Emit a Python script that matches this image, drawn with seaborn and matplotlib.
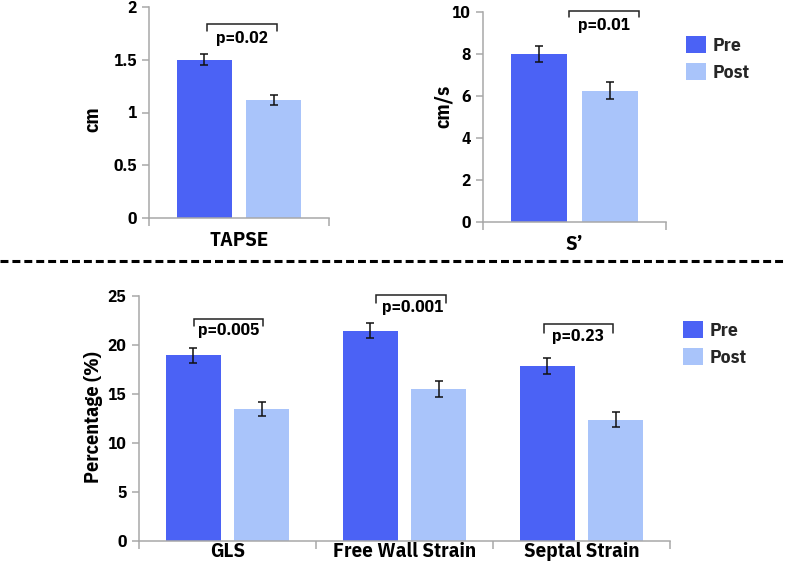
import matplotlib
matplotlib.use("Agg")
import matplotlib.pyplot as plt
from matplotlib.lines import Line2D
import numpy as np
import pandas as pd
import seaborn as sns

# ---------------- data ----------------
phases = ["Pre", "Post"]

tapse_cat = ["TAPSE"]
tapse_pre = [1.50]
tapse_post = [1.12]
tapse_pre_err = [0.05]
tapse_post_err = [0.05]
tapse_p = ["p=0.02"]

s_cat = ["S\u2019"]
s_pre = [8.0]
s_post = [6.25]
s_pre_err = [0.36]
s_post_err = [0.40]
s_p = ["p=0.01"]

strain_cat = ["GLS", "Free Wall Strain", "Septal Strain"]
strain_pre = [18.95, 21.45, 17.85]
strain_post = [13.45, 15.5, 12.35]
strain_pre_err = [0.75, 0.77, 0.77]
strain_post_err = [0.75, 0.78, 0.78]
strain_p = ["p=0.005", "p=0.001", "p=0.23"]

tapse_ticks = [0, 0.5, 1, 1.5, 2]
tapse_ticklabels = ["0", "0.5", "1", "1.5", "2"]
s_ticks = [0, 2, 4, 6, 8, 10]
strain_ticks = [0, 5, 10, 15, 20, 25]

# ---------------- style ----------------
sns.set_theme(style="white")
FAMILY = ["IBM Plex Sans Condensed", "Fira Sans Condensed", "Liberation Sans", "DejaVu Sans"]
plt.rcParams["font.family"] = FAMILY
plt.rcParams["font.weight"] = "bold"
plt.rcParams["axes.labelweight"] = "bold"

PRE_C = "#4B62F5"
POST_C = "#A9C4FA"
SPINE_C = "#A8A8A8"

W, H = 787, 566
fig = plt.figure(figsize=(W / 100, H / 100), dpi=100)


def fig_rect(x0, y_top, x1, y_bot):
    return [x0 / W, 1 - y_bot / H, (x1 - x0) / W, (y_bot - y_top) / H]


def make_df(cats, pre, post):
    rows = []
    for c, a, b in zip(cats, pre, post):
        rows.append({"category": c, "phase": "Pre", "value": a})
        rows.append({"category": c, "phase": "Post", "value": b})
    return pd.DataFrame(rows)


def draw_panel(ax, cats, pre, post, pre_err, post_err, ymax, ticks, ticklabels,
               ylabel, ylabel_xy, xpad, legend):
    df = make_df(cats, pre, post)
    sns.barplot(data=df, x="category", y="value", hue="phase", hue_order=phases,
                palette=[PRE_C, POST_C], width=0.77, gap=0.2, errorbar=None,
                linewidth=0, saturation=1, ax=ax, legend=legend)
    # error bars placed on seaborn's bars
    for cont, errs, vals in zip(ax.containers, [pre_err, post_err], [pre, post]):
        xs = [p.get_x() + p.get_width() / 2 for p in cont.patches]
        ax.errorbar(xs, vals, yerr=errs, fmt="none", ecolor="#111111",
                    elinewidth=1.1, capsize=3.2, capthick=1.1, zorder=5)
    n = len(cats)
    ax.set_xlim(-0.5, n - 0.5)
    ax.set_ylim(0, ymax)
    ax.set_yticks(ticks)
    ax.set_yticklabels(ticklabels, fontweight="bold", fontsize=12.5)
    ax.set_xticks(range(n))
    ax.set_xticklabels(cats, fontweight="bold", fontsize=15)
    ax.set_xticks(np.arange(-0.5, n, 1.0), minor=True)
    ax.tick_params(axis="x", which="major", length=0, pad=xpad, colors="black")
    ax.tick_params(axis="x", which="minor", length=6, width=1.1, color=SPINE_C,
                   direction="out", bottom=True)
    ax.tick_params(axis="y", which="major", length=5, width=1.1, color=SPINE_C,
                   direction="out", left=True, pad=4, labelcolor="black")
    sns.despine(ax=ax)
    for sp in ("left", "bottom"):
        ax.spines[sp].set_color(SPINE_C)
        ax.spines[sp].set_linewidth(1.1)
    ax.set_xlabel("")
    ax.set_ylabel(ylabel, fontsize=14.5, fontweight="bold", color="black")
    ax.yaxis.set_label_coords(*ylabel_xy)
    ax.set_facecolor("none")


def bracket(ax, x0, x1, y_leg, y_top, text, tx, ty, fs=12.5):
    ax.plot([x0, x0, x1, x1], [y_leg, y_top, y_top, y_leg], color="#222222",
            lw=1.1, clip_on=False, solid_joinstyle="miter")
    ax.text(tx, ty, text, ha="center", va="center", fontsize=fs,
            fontweight="bold", color="black", clip_on=False)


# ---- top left: TAPSE ----
ax1 = fig.add_axes(fig_rect(149, 7, 329, 218))
draw_panel(ax1, tapse_cat, tapse_pre, tapse_post, tapse_pre_err, tapse_post_err,
           2, tapse_ticks, tapse_ticklabels, "cm", (-0.261, 0.47), 9, False)
bracket(ax1, -0.178, 0.211, 1.772, 1.839, tapse_p[0], 0.016, 1.70)

# ---- top right: S' ----
ax2 = fig.add_axes(fig_rect(483, 12, 666, 222))
draw_panel(ax2, s_cat, s_pre, s_post, s_pre_err, s_post_err,
           10, s_ticks, [str(t) for t in s_ticks], "cm/s", (-0.164, 0.55), 9, True)
bracket(ax2, -0.030, 0.352, 9.76, 10.06, s_p[0], 0.16, 9.38)

# ---- bottom: strain ----
ax3 = fig.add_axes(fig_rect(139, 296, 670, 540.7))
draw_panel(ax3, strain_cat, strain_pre, strain_post, strain_pre_err, strain_post_err,
           25, strain_ticks, [str(t) for t in strain_ticks], "Percentage (%)",
           (-0.068, 0.507), 1, True)
br = [(-0.188, 0.200, 21.95, 22.64, 0.005, 21.47),
      (-0.161, 0.236, 24.27, 25.12, 0.046, 23.79),
      (-0.210, 0.180, 21.24, 22.13, -0.020, 20.86)]
for i, (a, b, yl, yt, tx, ty) in enumerate(br):
    bracket(ax3, i + a, i + b, yl, yt, strain_p[i], i + tx, ty)

# legends
for ax, (lx, ly) in ((ax2, (686, 36)), (ax3, (683, 321))):
    sns.move_legend(ax, "upper left", bbox_to_anchor=(lx / W, 1 - ly / H),
                    bbox_transform=fig.transFigure, title=None, frameon=False,
                    fontsize=14, handlelength=1.05, handleheight=0.95,
                    handletextpad=0.3, labelspacing=0.42, borderpad=0,
                    borderaxespad=0)
    for t in ax.get_legend().get_texts():
        t.set_fontweight("bold")

# dashed separator
fig.add_artist(Line2D([0, 1], [1 - 260.7 / H, 1 - 260.7 / H],
                      transform=fig.transFigure, color="black", lw=2.2,
                      linestyle=(0, (2.6, 1.3))))

fig.savefig("out.png", dpi=100, facecolor="white")
